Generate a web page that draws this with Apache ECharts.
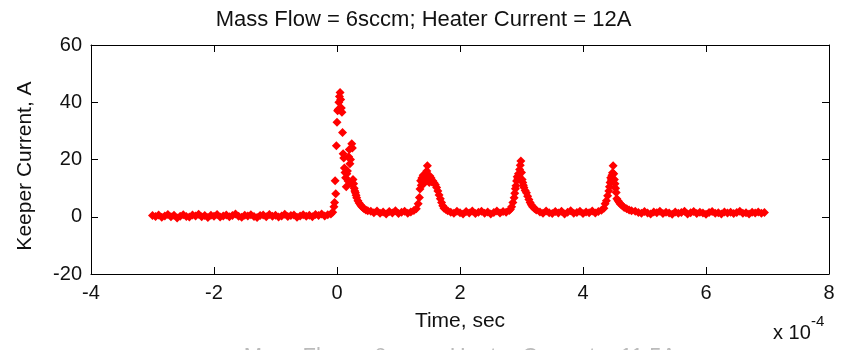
<!DOCTYPE html>
<html>
<head>
<meta charset="utf-8">
<script src="https://cdn.jsdelivr.net/npm/echarts@6/dist/echarts.min.js"></script>
<style>
html,body{margin:0;padding:0;background:#fff;}
#chart{width:847px;height:350px;}
</style>
</head>
<body>
<div id="chart"></div>
<script>
// Time in units of 1e-4 s, keeper current in A
const xTicks = [-4, -2, 0, 2, 4, 6, 8];
const yTicks = [-20, 0, 20, 40, 60];

const baselineBefore = [
[-3.00,0.4],[-2.95,0.1],[-2.90,0.6],[-2.85,-0.2],[-2.80,0.3],[-2.75,0.8],[-2.70,0.0],[-2.65,0.5],
[-2.60,-0.4],[-2.55,0.2],[-2.50,0.7],[-2.45,0.1],[-2.40,-0.1],[-2.35,0.6],[-2.30,0.3],[-2.25,0.9],
[-2.20,0.0],[-2.15,0.4],[-2.10,-0.3],[-2.05,0.5],[-2.00,0.2],[-1.95,0.8],[-1.90,-0.1],[-1.85,0.3],
[-1.80,0.6],[-1.75,0.0],[-1.70,0.4],[-1.65,1.0],[-1.60,0.2],[-1.55,-0.2],[-1.50,0.5],[-1.45,0.3],
[-1.40,0.7],[-1.35,0.1],[-1.30,-0.3],[-1.25,0.4],[-1.20,0.6],[-1.15,0.0],[-1.10,0.8],[-1.05,0.2],
[-1.00,0.5],[-0.95,-0.1],[-0.90,0.3],[-0.85,0.9],[-0.80,0.1],[-0.75,0.4],[-0.70,0.6],[-0.65,-0.2],
[-0.60,0.3],[-0.55,0.7],[-0.50,0.2],[-0.45,0.5],[-0.40,0.0],[-0.35,0.8],[-0.30,0.4],[-0.25,1.0],
[-0.20,0.3],[-0.15,0.7],[-0.10,1.0],[-0.07,1.6],[-0.05,3.5]
];
const firstSpike = [
[-0.04,5.0],[-0.03,12.6],[-0.02,8.0],[-0.01,24.8],[0.00,33],[0.01,37],[0.02,37.5],[0.03,40],
[0.04,42],[0.05,43.4],[0.06,41],[0.07,38],[0.08,36.5],[0.09,29.4],[0.10,22],[0.11,20.5],
[0.12,17],[0.13,15.5],[0.14,13.6],[0.15,10.5],[0.16,15],[0.17,16],[0.18,12.5],[0.19,21],
[0.20,23.5],[0.21,18.5],[0.22,20],[0.23,11.5],[0.24,25.5],[0.25,24],[0.26,13],[0.27,11.5],
[0.28,10],[0.29,9],[0.30,8.4],[0.31,7.5],[0.32,6.6],[0.34,5.6],[0.36,4.8],[0.38,4.2],
[0.40,3.6],[0.42,3.2],[0.44,2.8],[0.47,2.4],[0.50,2.1]
];
const baselineAfter1 = [
[0.55,1.9],[0.60,1.4],[0.65,2.0],[0.70,1.2],[0.75,1.7],[0.80,1.0],[0.85,1.8],[0.90,1.3],
[0.95,2.1],[1.00,1.1],[1.05,1.6],[1.10,1.9],[1.15,1.2],[1.20,1.7],[1.25,2.2],[1.29,2.8]
];
const secondPulse = [
[1.32,4.5],[1.34,6.7],[1.35,9.7],[1.36,12.6],[1.37,11],[1.38,13.5],[1.39,12],[1.40,14.5],
[1.41,11.5],[1.42,13.8],[1.43,12.2],[1.44,15],[1.45,13],[1.46,16],[1.47,17.8],[1.48,14.5],
[1.49,13],[1.50,12],[1.51,14.2],[1.52,12.8],[1.53,13.5],[1.54,12.2],[1.56,12.5],[1.58,11.8],
[1.60,11.2],[1.62,10.2],[1.64,9.0],[1.66,7.6],[1.68,6.3],[1.70,5.0],[1.72,3.8],[1.74,3.0],
[1.77,2.5],[1.80,2.1]
];
const baselineAfter2 = [
[1.85,1.6],[1.90,1.2],[1.95,1.9],[2.00,1.4],[2.05,1.0],[2.10,1.8],[2.15,1.3],[2.20,2.0],
[2.25,1.1],[2.30,1.6],[2.35,1.9],[2.40,1.2],[2.45,1.7],[2.50,1.0],[2.55,1.5],[2.60,2.0],
[2.65,1.3],[2.70,1.8],[2.75,1.6],[2.80,2.2]
];
const thirdPulse = [
[2.82,2.6],[2.84,3.5],[2.86,5.0],[2.88,6.6],[2.89,8.2],[2.90,9.8],[2.91,10.8],[2.92,12.5],
[2.93,14],[2.94,13.2],[2.95,15],[2.96,14.2],[2.97,16.5],[2.98,18],[2.99,19.5],[3.00,15.5],
[3.01,13],[3.02,12],[3.03,11],[3.04,10.2],[3.06,9.2],[3.08,8.4],[3.10,7.2],[3.12,6.0],
[3.14,5.0],[3.16,4.2],[3.18,3.5],[3.21,2.9],[3.24,2.4]
];
const baselineAfter3 = [
[3.30,1.7],[3.35,1.2],[3.40,2.0],[3.45,1.4],[3.50,1.1],[3.55,1.8],[3.60,1.3],[3.65,1.9],
[3.70,1.0],[3.75,1.6],[3.80,2.1],[3.85,1.2],[3.90,1.5],[3.95,1.9],[4.00,1.1],[4.05,1.7],
[4.10,1.4],[4.15,2.0],[4.20,1.3],[4.25,1.8],[4.30,2.3]
];
const fourthPulse = [
[4.34,3.0],[4.36,4.5],[4.38,5.6],[4.40,7.3],[4.42,9.0],[4.43,10.5],[4.44,12],[4.45,13.6],
[4.46,12.8],[4.47,14.5],[4.48,15.4],[4.49,17.8],[4.50,15],[4.51,13],[4.52,11.5],[4.53,10],
[4.54,8.5],[4.55,6.3],[4.57,5.6],[4.59,5.0],[4.61,4.4],[4.64,3.8],[4.67,3.2],[4.71,2.8],
[4.75,2.4],[4.79,2.1]
];
const baselineAfter4 = [
[4.85,1.9],[4.90,1.5],[4.95,1.2],[5.00,1.8],[5.05,1.3],[5.10,1.0],[5.15,1.7],[5.20,1.4],
[5.25,1.9],[5.30,1.1],[5.35,1.6],[5.40,1.3],[5.45,0.9],[5.50,1.7],[5.55,1.2],[5.60,1.5],
[5.65,1.9],[5.70,1.0],[5.75,1.4],[5.80,1.8],[5.85,1.1],[5.90,1.6],[5.95,1.3],[6.00,0.9],
[6.05,1.5],[6.10,1.8],[6.15,1.2],[6.20,1.4],[6.25,1.0],[6.30,1.7],[6.35,1.3],[6.40,1.6],
[6.45,1.1],[6.50,1.5],[6.55,1.9],[6.60,1.2],[6.65,1.4],[6.70,1.0],[6.75,1.6],[6.80,1.3],
[6.85,1.7],[6.90,1.2],[6.95,1.5]
];

const titleText = 'Mass Flow = 6sccm; Heater Current = 12A';
const nextTitleText = 'Mass Flow = 6sccm; Heater Current = 11.5A';
const xName = 'Time, sec';
const yName = 'Keeper Current, A';

const samples = [].concat(baselineBefore, firstSpike, baselineAfter1, secondPulse,
  baselineAfter2, thirdPulse, baselineAfter3, fourthPulse, baselineAfter4);

const FONT = "'Liberation Sans', Arial, Helvetica, sans-serif";
const chart = echarts.init(document.getElementById('chart'), null, {renderer: 'canvas'});

const axisCommon = {
  type: 'value',
  axisLine: {show: true, onZero: false, lineStyle: {color: '#000', width: 1}},
  axisTick: {show: true, inside: true, length: 7, lineStyle: {color: '#000', width: 1}},
  splitLine: {show: false},
  minorTick: {show: false}
};

chart.setOption({
  animation: false,
  backgroundColor: '#fff',
  grid: {left: 91, right: 18, top: 45, bottom: 76, containLabel: false},
  xAxis: [
    Object.assign({}, axisCommon, {
      position: 'bottom', min: xTicks[0], max: xTicks[xTicks.length - 1], interval: 2,
      axisLabel: {show: true, margin: 9, fontSize: 20, fontFamily: FONT, color: '#111'}
    }),
    Object.assign({}, axisCommon, {
      position: 'top', min: xTicks[0], max: xTicks[xTicks.length - 1], interval: 2,
      axisLabel: {show: false}
    })
  ],
  yAxis: [
    Object.assign({}, axisCommon, {
      position: 'left', min: yTicks[0], max: yTicks[yTicks.length - 1], interval: 20,
      axisLabel: {show: true, margin: 9, fontSize: 20, fontFamily: FONT, color: '#111'}
    }),
    Object.assign({}, axisCommon, {
      position: 'right', min: yTicks[0], max: yTicks[yTicks.length - 1], interval: 20,
      axisLabel: {show: false}
    })
  ],
  series: [{
    type: 'scatter',
    xAxisIndex: 0,
    yAxisIndex: 0,
    data: samples,
    symbol: 'diamond',
    symbolSize: 9,
    itemStyle: {color: '#ff0000', opacity: 1},
    emphasis: {disabled: true},
    silent: true
  }],
  graphic: [
    {type: 'text', left: 'center', top: 9, style: {text: titleText, fontSize: 22, fontFamily: FONT, fill: '#111'}},
    {type: 'text', x: 460, y: 321, style: {text: xName, fontSize: 21, fontFamily: FONT, fill: '#111', textAlign: 'center', textVerticalAlign: 'middle'}},
    {type: 'text', x: 25, y: 166, rotation: Math.PI / 2, style: {text: yName, fontSize: 21, fontFamily: FONT, fill: '#111', textAlign: 'center', textVerticalAlign: 'middle'}},
    {type: 'text', x: 773, y: 333, style: {text: 'x 10', fontSize: 20, fontFamily: FONT, fill: '#111', textAlign: 'left', textVerticalAlign: 'middle'}},
    {type: 'text', x: 811, y: 322, style: {text: '-4', fontSize: 15, fontFamily: FONT, fill: '#111', textAlign: 'left', textVerticalAlign: 'middle'}},
    {type: 'text', x: 460, y: 357, style: {text: nextTitleText, fontSize: 22, fontFamily: FONT, fill: '#bbb', textAlign: 'center', textVerticalAlign: 'middle'}}
  ]
});
</script>
</body>
</html>
